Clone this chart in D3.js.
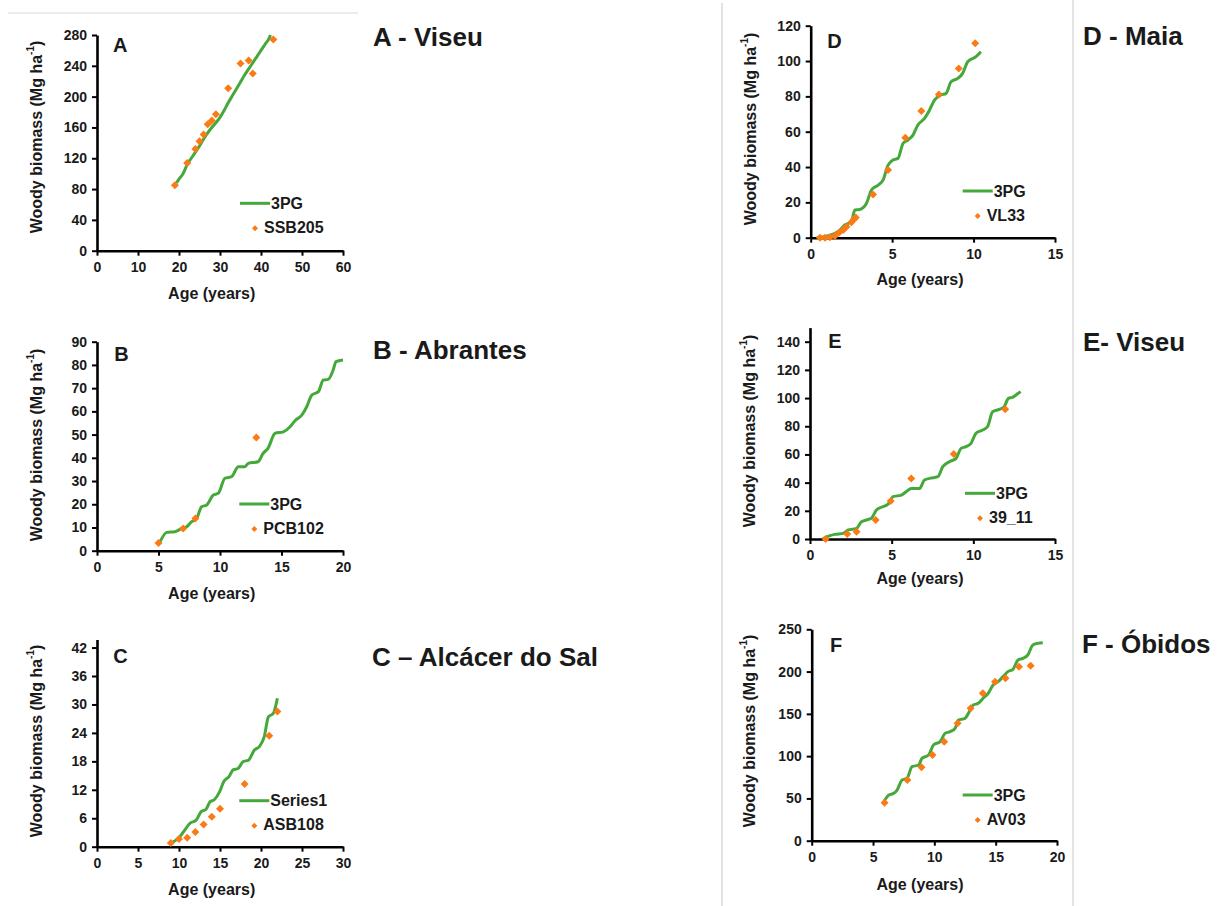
<!DOCTYPE html>
<html>
<head>
<meta charset="utf-8">
<script src="https://cdn.jsdelivr.net/npm/d3@7"></script>
<style>
  body { margin: 0; background: #fff; }
  text { font-family: "Liberation Sans", Arial, sans-serif; font-weight: bold; fill: #1a1a1a; }
</style>
</head>
<body>
<div id="chart"></div>
<script>
//data: [age (years), woody biomass (Mg/ha)]
const modelA = [[19.4,88],[20,93],[21,100],[21.5,106],[22,112],[23,120],[24,128],[25,136],[26,145],[27,153],[28,160],[29,166],[30,173],[31,182],[32,192],[33,201],[34,210],[35,219],[36,228],[37,236],[38,244],[39,252],[40,260],[41,268],[42,276],[42.3,280]];
const obsA = [[19,85],[22,114],[24,132],[25,142],[26,151],[27,164],[28,169],[29,177],[32,211],[35,243],[37,247],[38,230],[43,274]];

const modelB = [[5.07,3.2],[5.67,7.9],[6.34,8.2],[6.89,9.6],[7.29,10.3],[7.7,12.5],[8.1,13.9],[8.5,18.9],[8.92,19.7],[9.46,24],[9.86,24.7],[10.4,31.2],[10.95,31.9],[11.49,36.2],[12.03,36.2],[12.3,37.6],[13.1,38.3],[13.5,41.9],[13.9,44.1],[14.47,50.5],[15.15,51.2],[15.7,53.4],[16.1,56],[16.65,58.4],[17.05,62],[17.46,67],[18,68.5],[18.4,73.5],[18.8,73.8],[19.2,77.8],[19.43,81.4],[20,82.1]];
const obsB = [[5,3.3],[7,9.6],[8,13.9],[12.95,48.7]];

const modelC = [[9.1,0.8],[10.1,2.1],[10.7,3.5],[11.3,4.9],[12.1,5.6],[12.7,7.4],[13.3,7.9],[13.8,9.5],[14.3,9.9],[14.96,11.6],[15.45,13.7],[16.1,14.8],[16.6,16.2],[17.2,16.5],[17.8,17.9],[18.5,18.3],[19.2,20.4],[19.8,21.1],[20.4,23.2],[20.9,27.4],[21.5,28.1],[22,31.3]];
const obsC = [[9,0.8],[10,1.6],[11,1.9],[12,3.1],[13,4.7],[14,6.3],[15,8],[18,13.2],[21,23.4],[22,28.5]];

const modelD = [[0.37,0],[0.98,0.9],[1.49,2.5],[1.79,4.3],[2.1,7.2],[2.5,9.1],[2.71,15.7],[3,16],[3.42,19.4],[3.73,27],[4.14,29.8],[4.44,32.6],[4.75,41.1],[5.05,44],[5.36,44.9],[5.67,53.4],[5.97,55.3],[6.28,58.1],[6.58,63.8],[6.99,67.5],[7.3,72.3],[7.6,77.9],[8,80.8],[8.31,81.7],[8.62,88.3],[9.03,90.2],[9.33,93],[9.64,99.6],[10.15,102.5],[10.45,105.3]];
const obsD = [[0.57,0],[0.88,0],[1.18,0.2],[1.49,0.9],[1.75,3],[2,4.3],[2.2,6.2],[2.5,8.7],[2.65,10.4],[2.77,11.5],[3.83,24.5],[4.75,38.3],[5.81,56.6],[6.79,71.7],[7.87,81.1],[9.09,95.8],[10.1,110]];

const modelE = [[0.75,0],[1.22,2.4],[1.52,3.3],[2.03,4],[2.34,6.4],[2.85,7.6],[3.15,12.3],[3.46,13.5],[3.76,14.7],[4.07,20.6],[4.37,22.5],[4.78,24.8],[5.08,30],[5.59,31.2],[5.89,33.6],[6.2,35.9],[6.71,35.9],[7.01,41.9],[7.52,43.5],[7.83,44.2],[8.13,51.3],[8.54,54.9],[8.94,57.2],[9.25,64.3],[9.55,65.5],[9.86,67.9],[10.16,75],[10.57,77.3],[10.87,79.7],[11.18,90.3],[11.59,92],[11.89,93.9],[12.15,99.8],[12.4,100.5],[12.8,103.8],[12.9,104.5]];
const obsE = [[0.96,0],[2.28,3.5],[2.85,5.2],[4.02,13.5],[4.94,27],[6.2,43],[8.8,60.3],[11.95,92]];

const modelF = [[5.88,46.1],[6.29,54],[6.69,56],[6.96,59.9],[7.37,71.8],[7.77,73.7],[8.18,87.5],[8.72,89.5],[8.99,97.4],[9.53,101.3],[9.93,113.2],[10.47,117.1],[10.88,127],[11.28,128.9],[11.69,132.9],[11.96,142.7],[12.5,144.7],[12.85,152.6],[13.17,160.5],[13.58,162.5],[13.98,168.4],[14.39,174.3],[14.79,184.1],[15.2,188.1],[15.6,194],[16,199.9],[16.41,202.7],[16.82,213.7],[17.22,215.7],[17.62,219.6],[18.03,231.5],[18.43,233.4],[18.84,234.2]];
const obsF = [[5.94,45],[7.8,71.8],[8.95,86.8],[9.85,101.3],[10.8,117.1],[11.9,138.8],[12.96,156.5],[13.95,174.3],[14.95,188.1],[15.8,192],[16.9,205.8],[17.85,207]];

const lineNames = ["3PG", "3PG", "Series1", "3PG", "3PG", "3PG"];
const obsNames = ["SSB205", "PCB102", "ASB108", "VL33", "39_11", "AV03"];
const letters = ["A", "B", "C", "D", "E", "F"];
const siteTitles = ["A - Viseu", "B - Abrantes", "C \u2013 Alc\u00e1cer do Sal", "D - Maia", "E- Viseu", "F - \u00d3bidos"];
const xTicks = [d3.range(0, 61, 10), d3.range(0, 21, 5), d3.range(0, 31, 5), d3.range(0, 16, 5), d3.range(0, 16, 5), d3.range(0, 21, 5)];
const yTicks = [d3.range(0, 281, 40), d3.range(0, 91, 10), d3.range(0, 43, 6), d3.range(0, 121, 20), d3.range(0, 141, 20), d3.range(0, 251, 50)];

const green = "#45a83b";
const orange = "#fb7a16";

//layout of each panel, in page pixels
let panels = [
  { model: modelA, obs: obsA, xMax: 60, yMax: 280, box: [97, 343, 35, 250.7], leg: [240, 203.3], letter: [113, 52.3], title: [373, 45.7], yt: [36, 137], xt: [211.7, 298.7] },
  { model: modelB, obs: obsB, xMax: 20, yMax: 90, box: [97, 343, 341.7, 550.7], leg: [239.3, 504], letter: [114.3, 360.7], title: [373, 359], yt: [36, 445], xt: [211.7, 598.7] },
  { model: modelC, obs: obsC, xMax: 30, yMax: 43.7, box: [97, 343, 639.5, 846.7], leg: [239.3, 800.7], letter: [113.3, 663.3], title: [372, 666], yt: [36, 741], xt: [211.7, 895] },
  { model: modelD, obs: obsD, xMax: 15, yMax: 120, box: [810.7, 1055, 25.7, 237.7], leg: [962.7, 191], letter: [827.3, 48.3], title: [1083, 45], yt: [750, 129], xt: [920, 285] },
  { model: modelE, obs: obsE, xMax: 15, yMax: 150, box: [810, 1055, 327.6, 539], leg: [965, 493.3], letter: [828.3, 348.3], title: [1083, 351], yt: [749, 431], xt: [920, 584] },
  { model: modelF, obs: obsF, xMax: 20, yMax: 250, box: [811.7, 1057, 629.3, 840.7], leg: [962.7, 795], letter: [830, 651.7], title: [1082, 653], yt: [749, 731], xt: [920, 890] },
];

let svg = d3.select("#chart").append("svg").attr("width", 1225).attr("height", 906);
svg.append("rect").attr("width", 1225).attr("height", 906).attr("fill", "#fff");

//thin grey frame lines from the original layout
svg.append("line").attr("x1", 8).attr("x2", 358).attr("y1", 13).attr("y2", 13).attr("stroke", "#d9d9d9").attr("stroke-width", 1);
svg.append("line").attr("x1", 722).attr("x2", 722).attr("y1", 3).attr("y2", 906).attr("stroke", "#d0d0d0").attr("stroke-width", 1.2);
svg.append("line").attr("x1", 1073).attr("x2", 1073).attr("y1", 0).attr("y2", 906).attr("stroke", "#d0d0d0").attr("stroke-width", 1.2);

function diamond(r) {
  return `M0,${-r}L${r},0L0,${r}L${-r},0Z`;
}

panels.forEach(function (p, i) {
  let [l, r, t, b] = p.box;
  let xScale = d3.scaleLinear().domain([0, p.xMax]).range([l, r]);
  let yScale = d3.scaleLinear().domain([0, p.yMax]).range([b, t]);

  let g = svg.append("g");

  //axes
  let xAxis = d3.axisBottom(xScale).tickValues(xTicks[i]).tickSize(5).tickPadding(6).tickSizeOuter(0);
  let yAxis = d3.axisLeft(yScale).tickValues(yTicks[i]).tickSize(5).tickPadding(5).tickSizeOuter(0);

  let gx = g.append("g").attr("transform", `translate(0, ${b})`).call(xAxis);
  let gy = g.append("g").attr("transform", `translate(${l}, 0)`).call(yAxis);
  [gx, gy].forEach(function (ax) {
    ax.select(".domain").attr("stroke", "#000").attr("stroke-width", 2.6);
    ax.selectAll(".tick line").attr("stroke", "#000").attr("stroke-width", 2);
    ax.selectAll(".tick text")
      .attr("fill", "#1a1a1a")
      .style("font-family", "'Liberation Sans', Arial, sans-serif")
      .style("font-weight", "bold")
      .style("font-size", "14px");
  });

  //model line
  let line = d3.line().x((d) => xScale(d[0])).y((d) => yScale(d[1])).curve(d3.curveMonotoneX);
  g.append("path")
    .datum(p.model)
    .attr("d", line)
    .attr("fill", "none")
    .attr("stroke", green)
    .attr("stroke-width", 3)
    .attr("stroke-linejoin", "round");

  //observations
  g.selectAll(null)
    .data(p.obs)
    .enter()
    .append("path")
    .attr("d", diamond(4))
    .attr("transform", (d) => `translate(${xScale(d[0])}, ${yScale(d[1])})`)
    .attr("fill", orange);

  //panel letter
  g.append("text").attr("x", p.letter[0]).attr("y", p.letter[1]).style("font-size", "20px").text(letters[i]);

  //site title on the right
  svg.append("text").attr("x", p.title[0]).attr("y", p.title[1]).style("font-size", "26px").attr("fill", "#000").text(siteTitles[i]);

  //axis titles
  let yt = g.append("text")
    .attr("transform", `translate(${p.yt[0]}, ${p.yt[1]}) rotate(-90)`)
    .attr("text-anchor", "middle")
    .attr("dominant-baseline", "central")
    .style("font-size", "16px");
  yt.append("tspan").text("Woody biomass (Mg ha");
  yt.append("tspan").attr("baseline-shift", "super").style("font-size", "10px").text("-1");
  yt.append("tspan").text(")");

  g.append("text")
    .attr("x", p.xt[0])
    .attr("y", p.xt[1])
    .attr("text-anchor", "middle")
    .style("font-size", "16px")
    .text("Age (years)");

  //legend
  let [lx, ly] = p.leg;
  g.append("line").attr("x1", lx).attr("x2", lx + 30).attr("y1", ly).attr("y2", ly).attr("stroke", green).attr("stroke-width", 3);
  g.append("text").attr("x", lx + 31).attr("y", ly + 5.5).style("font-size", "16px").text(lineNames[i]);
  g.append("path").attr("d", diamond(3)).attr("transform", `translate(${lx + 15}, ${ly + 25})`).attr("fill", orange);
  g.append("text").attr("x", lx + 24).attr("y", ly + 29.5).style("font-size", "16px").text(obsNames[i]);
});
</script>
</body>
</html>
